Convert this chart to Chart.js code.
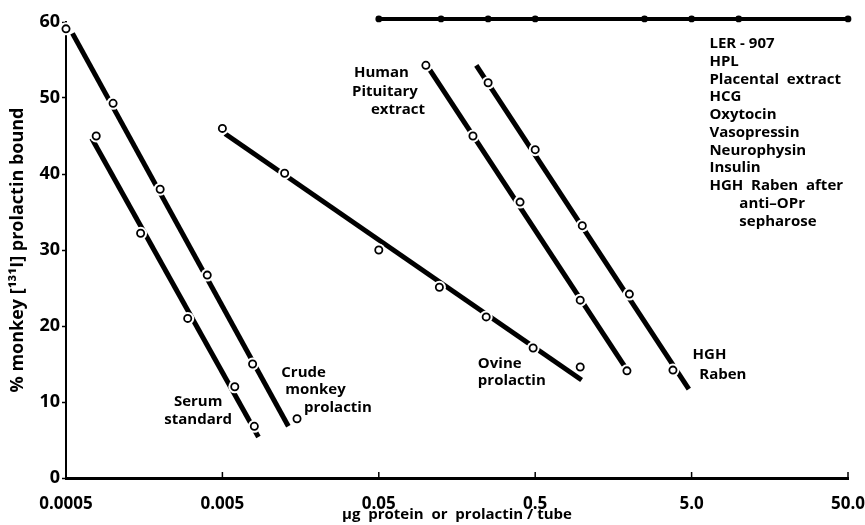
<!DOCTYPE html>
<html>
<head>
<meta charset="utf-8">
<script src="https://cdn.jsdelivr.net/npm/chart.js@4/dist/chart.umd.min.js"></script>
<style>
  body { margin: 0; background: #fff; }
  #wrap { width: 865px; height: 525px; position: relative; }
</style>
</head>
<body>
<div id="wrap"><canvas id="chart"></canvas></div>
<script>
// ── Data ─────────────────────────────────────────────────────────────────────
const xTickValues = [0.0005, 0.005, 0.05, 0.5, 5, 50];
const xTickLabels = ["0.0005", "0.005", "0.05", "0.5", "5.0", "50.0"];

const serumX   = [0.00078, 0.0015, 0.003, 0.006, 0.008];
const serumY   = [45, 32.2, 21, 12, 6.8];
const serumFitX = [0.00073, 0.0085];
const serumFitY = [44.7, 5.4];

const crudeX   = [0.0005, 0.001, 0.002, 0.004, 0.0078, 0.015];
const crudeY   = [59.1, 49.3, 38, 26.7, 15, 7.8];
const crudeFitX = [0.00055, 0.0132];
const crudeFitY = [58.5, 6.8];

const ovineX   = [0.005, 0.0125, 0.05, 0.122, 0.243, 0.485, 0.97];
const ovineY   = [46, 40.1, 30, 25.1, 21.2, 17.1, 14.6];
const ovineFitX = [0.0052, 0.99];
const ovineFitY = [45.3, 12.9];

const pituitaryX   = [0.1, 0.2, 0.4, 0.97, 1.93];
const pituitaryY   = [54.3, 45, 36.3, 23.4, 14.1];
const pituitaryFitX = [0.106, 1.88];
const pituitaryFitY = [53.7, 14.6];

const hghX   = [0.25, 0.5, 1.0, 2.0, 3.8];
const hghY   = [52, 43.2, 33.2, 24.2, 14.2];
const hghFitX = [0.21, 4.8];
const hghFitY = [54.3, 11.7];

// no displacement: LER-907, HPL, ... all flat at top
const flatX = [0.05, 0.125, 0.25, 0.5, 2.5, 5, 10, 50];
const flatY = [60.4, 60.4, 60.4, 60.4, 60.4, 60.4, 60.4, 60.4];

const listLabels = ["LER - 907", "HPL", "Placental  extract", "HCG", "Oxytocin",
                    "Vasopressin", "Neurophysin", "Insulin", "HGH  Raben  after"];
const listTail   = ["anti\u2013OPr", "sepharose"];

// text annotations, anchored in data units
const notes = [
  { lines: ["Serum", "standard"], x: 0.0035, y: 10.0, align: "center" },
  { lines: ["Crude"],     x: 0.0119, y: 13.8, align: "left" },
  { lines: ["monkey"],    x: 0.0126, y: 11.6, align: "left" },
  { lines: ["prolactin"], x: 0.0166, y: 9.2,  align: "left" },
  { lines: ["Ovine", "prolactin"], x: 0.215, y: 15.1, align: "left" },
  { lines: ["HGH"],   x: 5.07, y: 16.2, align: "left" },
  { lines: ["Raben"], x: 5.6,  y: 13.6, align: "left" },
  { lines: ["Human"],     x: 0.0347, y: 53.3, align: "left" },
  { lines: ["Pituitary"], x: 0.0337, y: 50.8, align: "left" },
  { lines: ["extract"],   x: 0.0445, y: 48.4, align: "left" },
  { lines: listLabels, x: 6.5,  y: 57.1, align: "left" },
  { lines: listTail,   x: 10.1, y: 36.1, align: "left" },
];

// ── Helpers ──────────────────────────────────────────────────────────────────
const FONT = "'Open Sans', Lato, sans-serif";
const pts = (xs, ys) => xs.map((x, i) => ({ x, y: ys[i] }));

function fitLine(xs, ys) {
  return { data: pts(xs, ys), showLine: true, borderColor: "#000", borderWidth: 5,
           borderCapStyle: "butt", pointRadius: 0, order: 3, clip: false };
}
function halo(xs, ys) {
  return { data: pts(xs, ys), pointRadius: 6.5, pointBackgroundColor: "#fff",
           pointBorderWidth: 0, order: 1, clip: false };
}
function circles(xs, ys) {
  return { data: pts(xs, ys), pointRadius: 3.6, pointBackgroundColor: "#fff",
           pointBorderColor: "#000", pointBorderWidth: 1.8, order: 0, clip: false };
}

const series = [
  [serumX, serumY, serumFitX, serumFitY],
  [crudeX, crudeY, crudeFitX, crudeFitY],
  [ovineX, ovineY, ovineFitX, ovineFitY],
  [pituitaryX, pituitaryY, pituitaryFitX, pituitaryFitY],
  [hghX, hghY, hghFitX, hghFitY],
];

const datasets = [];
series.forEach(([x, y, fx, fy]) => {
  datasets.push(fitLine(fx, fy), halo(x, y), circles(x, y));
});
datasets.push({
  data: pts(flatX, flatY), showLine: true, borderColor: "#000", borderWidth: 4,
  pointRadius: 3.4, pointBackgroundColor: "#000", pointBorderWidth: 0,
  order: 0, clip: false,
});

// ── Plugins: inward x ticks and text notes ───────────────────────────────────
const extras = {
  id: "extras",
  afterDatasetsDraw(chart) {
    const { ctx, scales: { x, y } } = chart;
    ctx.save();
    ctx.strokeStyle = "#000";
    ctx.lineWidth = 1.5;
    xTickValues.slice(1).forEach((v) => {
      const px = x.getPixelForValue(v);
      ctx.beginPath();
      ctx.moveTo(px, y.bottom);
      ctx.lineTo(px, y.bottom - 6);
      ctx.stroke();
    });

    ctx.fillStyle = "#000";
    ctx.font = `bold 15px ${FONT}`;
    ctx.textBaseline = "middle";
    notes.forEach((n) => {
      ctx.textAlign = n.align;
      const px = x.getPixelForValue(n.x);
      const py = y.getPixelForValue(n.y);
      n.lines.forEach((line, i) => ctx.fillText(line, px, py + i * 17.7));
    });
    ctx.restore();
  },
};

new Chart(document.getElementById("chart"), {
  type: "scatter",
  data: { datasets },
  options: {
    responsive: true,
    maintainAspectRatio: false,
    animation: false,
    layout: { padding: { top: 22, right: 17, left: 0, bottom: 0 } },
    plugins: { legend: { display: false }, tooltip: { enabled: false } },
    scales: {
      x: {
        type: "logarithmic",
        min: 0.0005,
        max: 50,
        afterBuildTicks: (scale) => { scale.ticks = xTickValues.map((v) => ({ value: v })); },
        afterFit: (scale) => { scale.height = 47; scale.paddingRight = 0; },
        grid: { display: false },
        border: { display: true, color: "#000", width: 3 },
        ticks: {
          color: "#000",
          font: { family: FONT, size: 17, weight: "bold" },
          padding: 8,
          maxRotation: 0,
          autoSkip: false,
          callback: (v, i) => xTickLabels[i],
        },
        title: {
          display: true,
          text: "\u03bcg  protein  or  prolactin / tube",
          color: "#000",
          font: { family: FONT, size: 15, weight: "bold" },
          padding: { top: 0, bottom: 1 },
        },
      },
      y: {
        min: 0,
        max: 60,
        afterFit: (scale) => { scale.width = 66; },
        grid: { display: true, drawOnChartArea: false, drawTicks: true, tickLength: 4, color: "#000", tickWidth: 1.5 },
        border: { display: true, color: "#000", width: 2 },
        ticks: {
          stepSize: 10,
          color: "#000",
          padding: 2,
          font: { family: FONT, size: 18, weight: "bold" },
        },
        title: {
          display: true,
          text: "% monkey [\u00b9\u00b3\u00b9I] prolactin bound",
          color: "#000",
          font: { family: FONT, size: 18, weight: "bold" },
          padding: { top: 7, bottom: 0 },
        },
      },
    },
  },
  plugins: [extras],
});
</script>
</body>
</html>
